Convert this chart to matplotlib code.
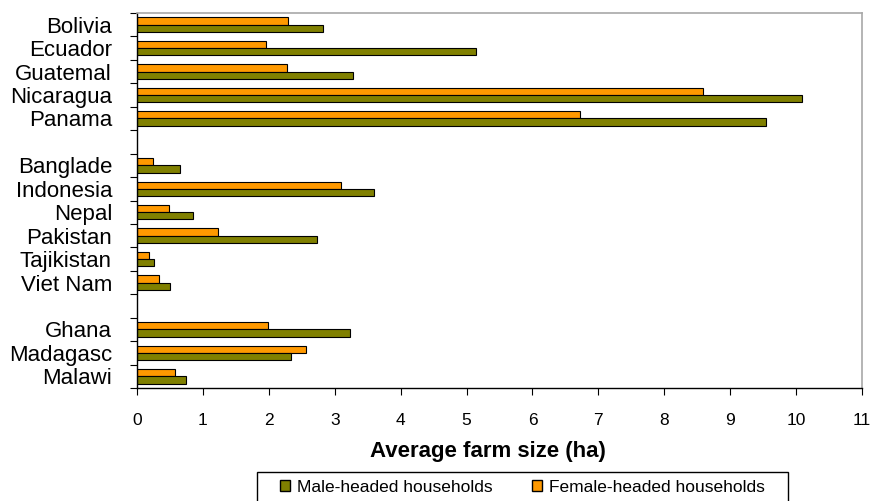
import matplotlib
import matplotlib.pyplot as plt
from matplotlib.patches import Patch, Rectangle

# countries grouped by region, a blank slot separates the groups
groups = [
    ["Bolivia", "Ecuador", "Guatemal", "Nicaragua", "Panama"],
    ["Banglade", "Indonesia", "Nepal", "Pakistan", "Tajikistan", "Viet Nam"],
    ["Ghana", "Madagasc", "Malawi"],
]
male = [2.82, 5.15, 3.27, 10.09, 9.54,
        0.65, 3.60, 0.85, 2.73, 0.26, 0.50,
        3.23, 2.33, 0.75]
female = [2.29, 1.96, 2.28, 8.59, 6.72,
          0.24, 3.10, 0.48, 1.23, 0.18, 0.33,
          1.98, 2.57, 0.57]

male_color = "#808000"
female_color = "#FF9900"

matplotlib.rc('font', family=['Liberation Sans', 'DejaVu Sans'])

labels = []
pos = []
slot = 0
for g in groups:
    for name in g:
        labels.append(name)
        pos.append(slot)
        slot += 1
    slot += 1
nslots = slot - 1

fig = plt.figure(figsize=(8.74, 5.01), dpi=100)
ax = fig.add_axes([137 / 874, 1 - 388 / 501, 725 / 874, 375 / 501])

h = 0.31
ax.barh([p - h / 2 for p in pos], female, height=h, color=female_color,
        edgecolor='black', linewidth=0.8)
ax.barh([p + h / 2 for p in pos], male, height=h, color=male_color,
        edgecolor='black', linewidth=0.8)

ax.set_ylim(nslots - 0.5, -0.5)
ax.set_xlim(0, 11)
ax.set_xticks(range(0, 12))
ax.tick_params(axis='x', labelsize=12.5, length=5, pad=13, direction='out')

ax.set_yticks([i - 0.5 for i in range(nslots + 1)])
ax.set_yticklabels([])
ax.tick_params(axis='y', which='major', length=5, direction='out')
ax.set_yticks(pos, minor=True)
ax.set_yticklabels(labels, minor=True, fontsize=16)
ax.tick_params(axis='y', which='minor', length=0, pad=18)

for s in ['top', 'right']:
    ax.spines[s].set_color('#A8A8A8')
    ax.spines[s].set_linewidth(1.2)
for s in ['left', 'bottom']:
    ax.spines[s].set_color('black')
    ax.spines[s].set_linewidth(1.0)

ax.set_xlabel("Average farm size (ha)", fontsize=16, fontweight='bold')
ax.xaxis.set_label_coords((487.5 - 137) / 725, -0.14)

# legend frame, runs off the bottom of the image like the original
fig.patches.append(Rectangle((257 / 874, -0.05), 531 / 874, 0.05 + 29 / 501,
                             transform=fig.transFigure, fill=False,
                             edgecolor='black', linewidth=1.0))
handles = [Patch(facecolor=male_color, edgecolor='black', label='Male-headed households'),
           Patch(facecolor=female_color, edgecolor='black', label='Female-headed households')]
leg = fig.legend(handles=handles, loc='center', bbox_to_anchor=(522.5 / 874, 1 - 487.5 / 501),
                 ncol=2, fontsize=12.5, frameon=False,
                 handlelength=0.58, handleheight=0.58, handletextpad=0.4,
                 columnspacing=2.3, borderpad=0.0)

fig.savefig("out.png", dpi=100)
